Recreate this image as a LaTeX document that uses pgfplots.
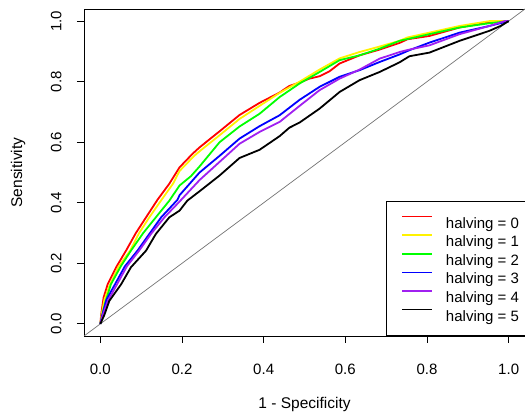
\documentclass[border=0pt]{standalone}
\usepackage{pgfplots}
\pgfplotsset{compat=1.18}
\usepackage{fontspec}
\setmainfont{Liberation Sans}
\definecolor{rpurple}{RGB}{160,32,240}
\begin{document}
\begin{tikzpicture}[x=1pt,y=1pt]
\begin{axis}[
  name=ax,
  width=441pt, height=327pt, scale only axis,
  xmin=-0.04, xmax=1.04, ymin=-0.04, ymax=1.04,
  xtick={0,0.2,0.4,0.6,0.8,1.0}, ytick={0,0.2,0.4,0.6,0.8,1.0},
  xticklabels={0.0,0.2,0.4,0.6,0.8,1.0},
  yticklabels={0.0,0.2,0.4,0.6,0.8,1.0},
  tick align=outside, major tick length=7pt,
  xtick pos=bottom, ytick pos=left,
  tick style={black, line width=0.8pt},
  axis line style={line width=0.8pt},
  every tick label/.append style={font=\fontsize{15}{18}\selectfont, text=black},
  xticklabel style={yshift=-17pt},
  yticklabel style={rotate=90, anchor=south, yshift=12pt},
  xlabel={1 - Specificity}, ylabel={Sensitivity},
  label style={font=\fontsize{15.5}{18}\selectfont, text=black},
  xlabel style={at={([yshift=-68pt]axis description cs:0.5,0)}, anchor=center},
  ylabel style={at={([xshift=-66pt]axis description cs:0,0.5)}, anchor=center, rotate=0},
  legend cell align=left,
  legend image code/.code={\draw[#1, line width=1.6pt] (0pt,5.4pt) -- (30pt,5.4pt);},
  legend style={at={(rel axis cs:0.6848,0)}, anchor=south west, draw=black, line width=0.8pt,
    fill=white, font=\fontsize{15}{18}\selectfont, inner xsep=15pt, inner ysep=13.5pt,
    row sep=4.6pt, column sep=13pt,
    nodes={inner sep=0pt, text height=13pt, text depth=1pt}},
]
\addplot[black!55, line width=0.7pt, forget plot] coordinates {(-0.04,-0.04) (1.04,1.04)};
\addplot[red, line width=1.8pt] coordinates {(0,0) (0.002,0.03) (0.008,0.087) (0.018,0.131) (0.04,0.19) (0.063,0.242) (0.087,0.30) (0.112,0.352) (0.14,0.41) (0.169,0.463) (0.194,0.517) (0.226,0.562) (0.243,0.583) (0.292,0.636) (0.341,0.69) (0.39,0.73) (0.439,0.764) (0.463,0.786) (0.488,0.797) (0.512,0.81) (0.537,0.818) (0.561,0.834) (0.586,0.86) (0.635,0.887) (0.684,0.906) (0.733,0.928) (0.752,0.94) (0.806,0.951) (0.88,0.979) (0.953,0.996) (1,1)};
\addlegendentry{halving = 0}
\addplot[yellow, line width=1.8pt] coordinates {(0,0) (0.003,0.03) (0.01,0.08) (0.022,0.125) (0.045,0.19) (0.073,0.242) (0.095,0.30) (0.12,0.352) (0.15,0.41) (0.178,0.463) (0.194,0.505) (0.230,0.555) (0.243,0.57) (0.292,0.623) (0.341,0.677) (0.39,0.72) (0.439,0.763) (0.488,0.80) (0.537,0.84) (0.586,0.877) (0.635,0.898) (0.684,0.916) (0.733,0.935) (0.752,0.946) (0.806,0.962) (0.88,0.984) (0.953,1.0) (1,1)};
\addlegendentry{halving = 1}
\addplot[green, line width=1.8pt] coordinates {(0,0) (0.004,0.025) (0.012,0.07) (0.026,0.131) (0.05,0.19) (0.075,0.242) (0.105,0.30) (0.136,0.352) (0.169,0.407) (0.194,0.457) (0.222,0.488) (0.243,0.52) (0.292,0.60) (0.341,0.652) (0.39,0.694) (0.439,0.749) (0.488,0.794) (0.537,0.832) (0.586,0.871) (0.635,0.887) (0.684,0.909) (0.733,0.935) (0.806,0.957) (0.88,0.979) (0.953,0.993) (1,1)};
\addlegendentry{halving = 2}
\addplot[blue, line width=1.8pt] coordinates {(0,0) (0.005,0.03) (0.015,0.08) (0.036,0.131) (0.06,0.19) (0.091,0.242) (0.12,0.297) (0.149,0.352) (0.189,0.41) (0.194,0.425) (0.243,0.50) (0.292,0.555) (0.341,0.612) (0.39,0.653) (0.439,0.689) (0.488,0.740) (0.537,0.783) (0.586,0.816) (0.635,0.838) (0.684,0.865) (0.733,0.89) (0.757,0.904) (0.806,0.929) (0.88,0.962) (0.953,0.984) (1,1)};
\addlegendentry{halving = 3}
\addplot[rpurple, line width=1.8pt] coordinates {(0,0) (0.005,0.025) (0.018,0.075) (0.041,0.131) (0.065,0.19) (0.095,0.242) (0.124,0.297) (0.157,0.352) (0.194,0.404) (0.243,0.475) (0.292,0.535) (0.341,0.595) (0.39,0.634) (0.439,0.667) (0.488,0.72) (0.537,0.772) (0.586,0.81) (0.635,0.84) (0.684,0.876) (0.733,0.898) (0.757,0.906) (0.806,0.92) (0.88,0.957) (0.953,0.984) (0.99,1.0) (1,1)};
\addlegendentry{halving = 4}
\addplot[black, line width=1.8pt] coordinates {(0,0) (0.01,0.03) (0.022,0.076) (0.051,0.131) (0.075,0.187) (0.112,0.242) (0.136,0.297) (0.169,0.352) (0.194,0.374) (0.213,0.407) (0.243,0.438) (0.292,0.49) (0.341,0.548) (0.39,0.575) (0.439,0.62) (0.463,0.648) (0.488,0.665) (0.537,0.711) (0.586,0.766) (0.635,0.805) (0.684,0.832) (0.733,0.864) (0.757,0.884) (0.806,0.896) (0.88,0.935) (0.953,0.968) (0.98,0.984) (1,1)};
\addlegendentry{halving = 5}
\end{axis}
\pgfresetboundingbox
\path[use as bounding box] ([shift={(-84pt,-81pt)}]ax.south west) rectangle ([shift={(0pt,9pt)}]ax.north east);
\end{tikzpicture}
\end{document}
